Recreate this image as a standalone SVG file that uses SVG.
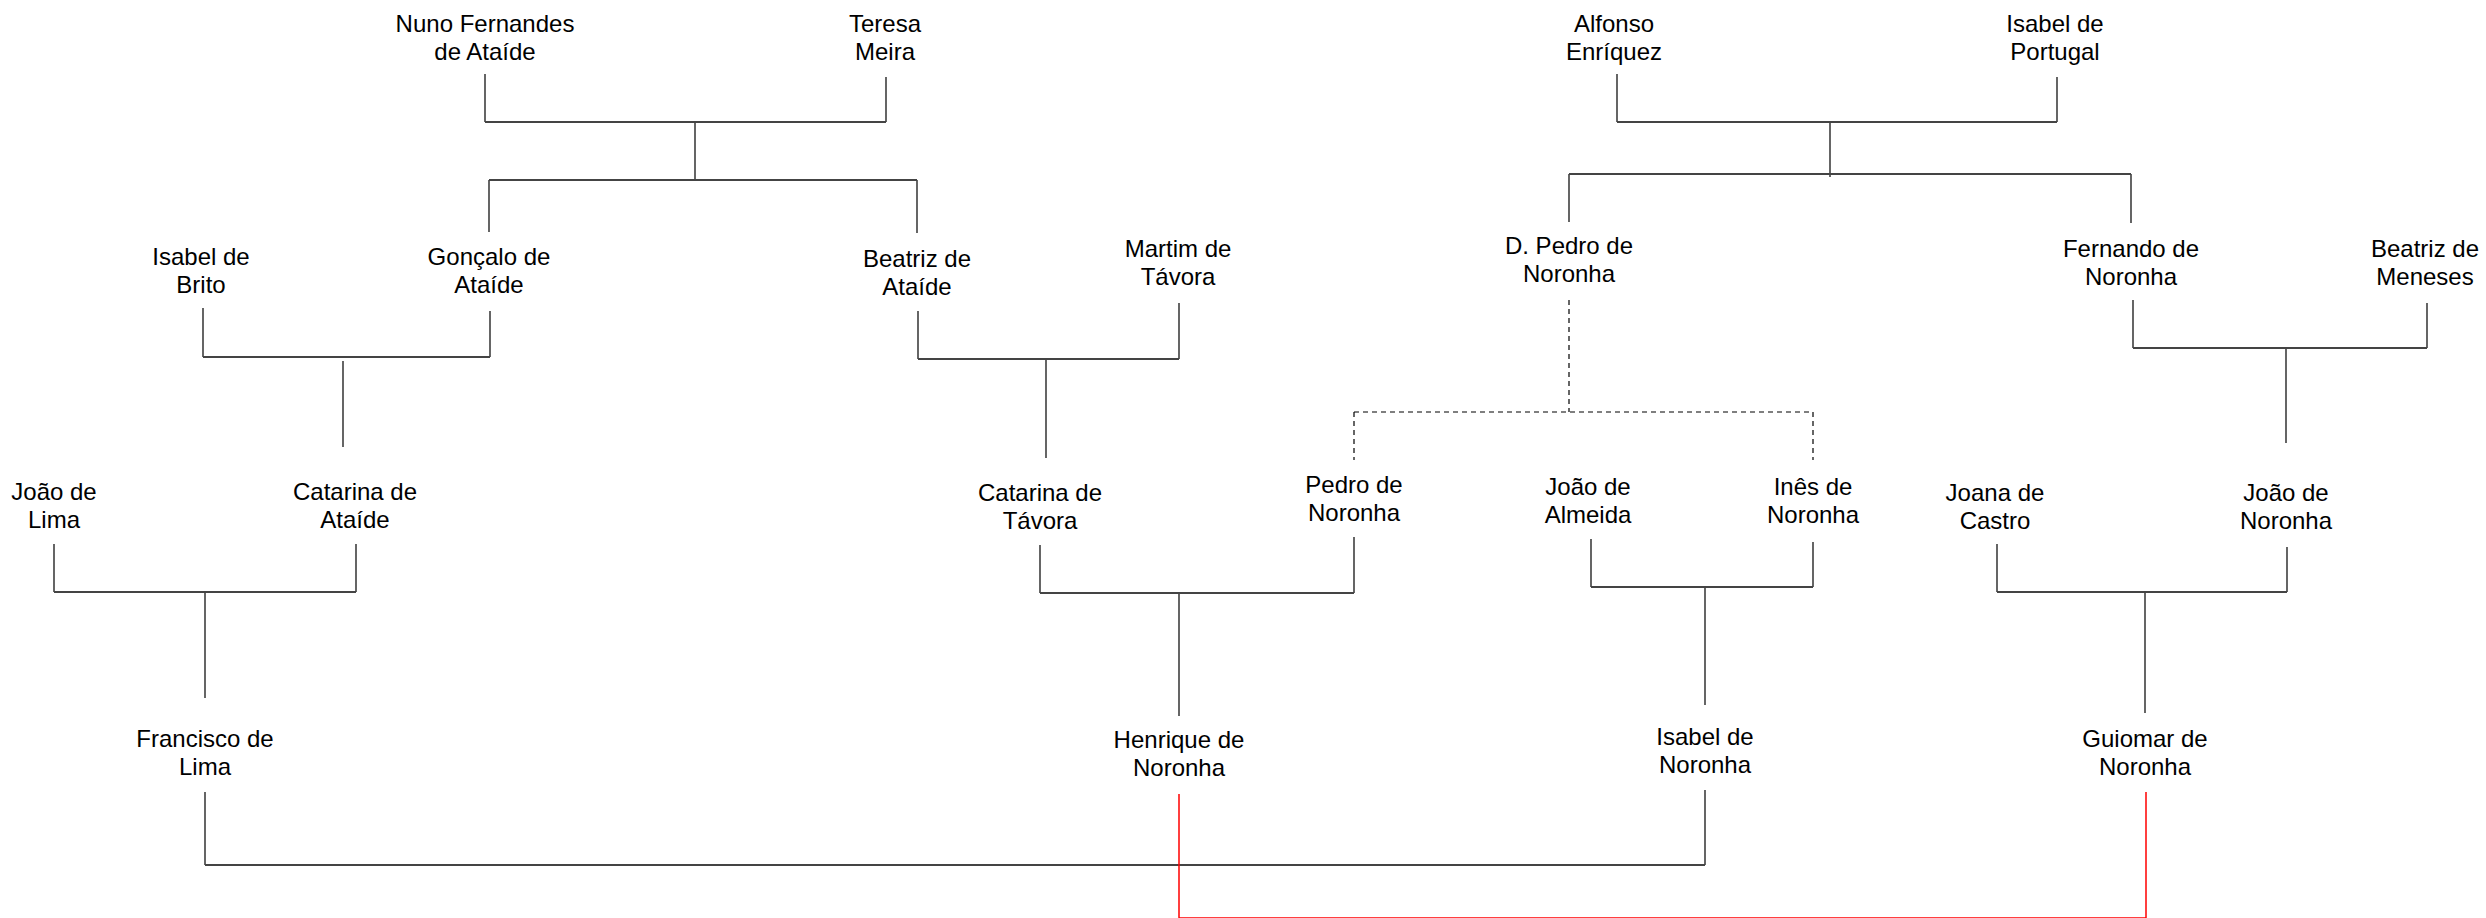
<svg xmlns="http://www.w3.org/2000/svg" width="2486" height="918" viewBox="0 0 2486 918">
<style>
text{font-family:"Liberation Sans",Arial,sans-serif;font-size:24px;fill:#000;text-anchor:middle}
.v{fill:none;stroke:#000;stroke-width:1.2}
.h{fill:none;stroke:#444;stroke-width:2}
.d{fill:none;stroke:#000;stroke-width:1.2;stroke-dasharray:5 4}
.r{fill:none;stroke:#f00;stroke-width:1.5}
</style>
<rect width="2486" height="918" fill="#fff"/>
<g id="connectors">
<path class="v" d="M485,74V122M886,77V122M695,122V180M489,180V232M917,180V233"/>
<path class="h" d="M485,122H886M489,180H917"/>
<path class="v" d="M1617,74V122M2057,77V122M1830,122V177M1569,174V222M2131,174V223"/>
<path class="h" d="M1617,122H2057M1569,174H2131"/>
<path class="v" d="M203,308V357M490,311V357M343,361V447"/>
<path class="h" d="M203,357H490"/>
<path class="v" d="M918,311V359M1179,303V359M1046,359V458"/>
<path class="h" d="M918,359H1179"/>
<path class="d" d="M1569,300V412M1354,412H1813M1354,412V460M1813,412V460"/>
<path class="v" d="M2133,300V348M2427,303V348M2286,348V443"/>
<path class="h" d="M2133,348H2427"/>
<path class="v" d="M54,544V592M356,544V592M205,592V698"/>
<path class="h" d="M54,592H356"/>
<path class="v" d="M1040,545V593M1354,537V593M1179,593V716"/>
<path class="h" d="M1040,593H1354"/>
<path class="v" d="M1591,539V587M1813,542V587M1705,587V705"/>
<path class="h" d="M1591,587H1813"/>
<path class="v" d="M1997,544V592M2287,547V592M2145,592V713"/>
<path class="h" d="M1997,592H2287"/>
<path class="v" d="M205,792V865M1705,790V865"/>
<path class="h" d="M205,865H1705"/>
<path class="r" d="M1179,794V918M2146,792V918M1179,918H2146"/>
</g>
<g id="nuno"><text x="485" y="32">Nuno Fernandes<tspan x="485" dy="28">de Ataíde</tspan></text></g>
<g id="teresa"><text x="885" y="32">Teresa<tspan x="885" dy="28">Meira</tspan></text></g>
<g id="alfonso"><text x="1614" y="32">Alfonso<tspan x="1614" dy="28">Enríquez</tspan></text></g>
<g id="isabel-portugal"><text x="2055" y="32">Isabel de<tspan x="2055" dy="28">Portugal</tspan></text></g>
<g id="isabel-brito"><text x="201" y="265">Isabel de<tspan x="201" dy="28">Brito</tspan></text></g>
<g id="goncalo"><text x="489" y="265">Gonçalo de<tspan x="489" dy="28">Ataíde</tspan></text></g>
<g id="beatriz-ataide"><text x="917" y="267">Beatriz de<tspan x="917" dy="28">Ataíde</tspan></text></g>
<g id="martim"><text x="1178" y="257">Martim de<tspan x="1178" dy="28">Távora</tspan></text></g>
<g id="dpedro"><text x="1569" y="254">D. Pedro de<tspan x="1569" dy="28">Noronha</tspan></text></g>
<g id="fernando"><text x="2131" y="257">Fernando de<tspan x="2131" dy="28">Noronha</tspan></text></g>
<g id="beatriz-meneses"><text x="2425" y="257">Beatriz de<tspan x="2425" dy="28">Meneses</tspan></text></g>
<g id="joao-lima"><text x="54" y="500">João de<tspan x="54" dy="28">Lima</tspan></text></g>
<g id="catarina-ataide"><text x="355" y="500">Catarina de<tspan x="355" dy="28">Ataíde</tspan></text></g>
<g id="catarina-tavora"><text x="1040" y="501">Catarina de<tspan x="1040" dy="28">Távora</tspan></text></g>
<g id="pedro"><text x="1354" y="493">Pedro de<tspan x="1354" dy="28">Noronha</tspan></text></g>
<g id="joao-almeida"><text x="1588" y="495">João de<tspan x="1588" dy="28">Almeida</tspan></text></g>
<g id="ines"><text x="1813" y="495">Inês de<tspan x="1813" dy="28">Noronha</tspan></text></g>
<g id="joana"><text x="1995" y="501">Joana de<tspan x="1995" dy="28">Castro</tspan></text></g>
<g id="joao-noronha"><text x="2286" y="501">João de<tspan x="2286" dy="28">Noronha</tspan></text></g>
<g id="francisco"><text x="205" y="747">Francisco de<tspan x="205" dy="28">Lima</tspan></text></g>
<g id="henrique"><text x="1179" y="748">Henrique de<tspan x="1179" dy="28">Noronha</tspan></text></g>
<g id="isabel-noronha"><text x="1705" y="745">Isabel de<tspan x="1705" dy="28">Noronha</tspan></text></g>
<g id="guiomar"><text x="2145" y="747">Guiomar de<tspan x="2145" dy="28">Noronha</tspan></text></g>
</svg>
